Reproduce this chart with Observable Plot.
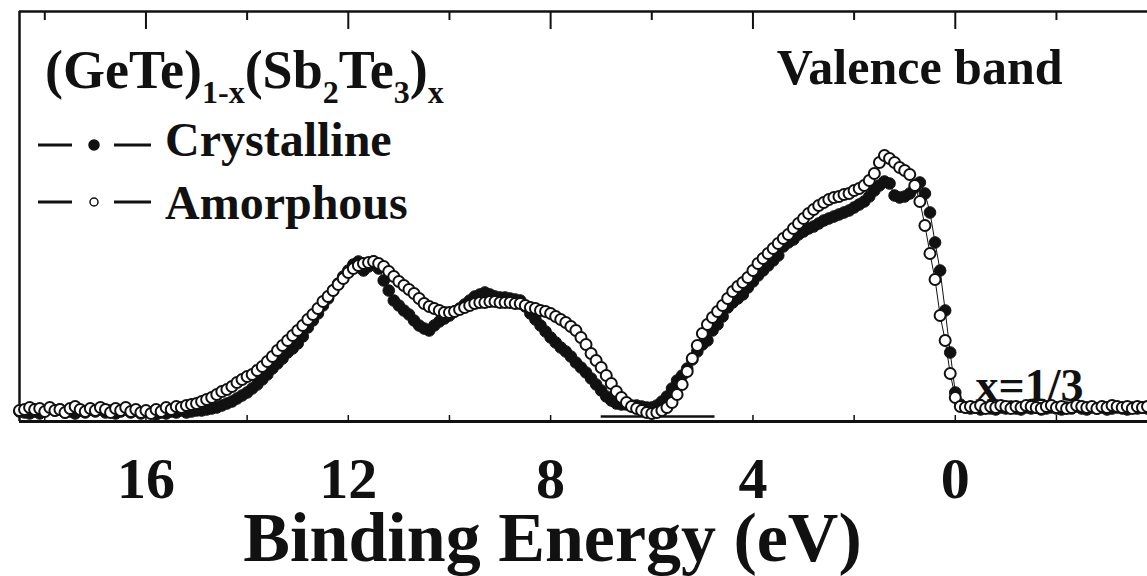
<!DOCTYPE html>
<html>
<head>
<meta charset="utf-8">
<script src="https://cdn.jsdelivr.net/npm/d3@7"></script>
<script src="https://cdn.jsdelivr.net/npm/@observablehq/plot@0.6"></script>
<style>
  html, body { margin: 0; padding: 0; background: #fff; }
  #chart svg { display: block; }
</style>
</head>
<body>
<div id="chart"></div>
<script>
// Photoemission valence-band spectra of (GeTe)1-x(Sb2Te3)x, x = 1/3.
// Intensities (arb. units) sampled on a uniform binding-energy grid.
const energyStart = 18.5;   // eV, first sample
const energyStep = 0.1;     // eV between samples (decreasing binding energy)

const crystalline = [
  10,9,8,10,8,11,13,11,12,9,
  10,8,11,9,12,10,13,9,11,8,
  10,12,9,11,8,10,9,7,9,8,
  10,9,11,9,10,11,11,12,13,14,
  16,18,20,23,26,29,33,37,42,47,
  53,58,63,69,73,78,85,94,101,108,
  116,123,131,138,145,151,157,160,151,155,
  160,153,141,131,121,116,111,107,101,96,
  93,91,96,100,103,106,110,113,117,121,
  125,127,129,127,125,124,124,123,122,121,
  115,108,102,96,90,84,79,74,70,65,
  59,54,49,43,37,31,25,21,18,17,
  17,16,16,15,14,14,16,20,25,33,
  41,46,53,62,70,77,81,91,97,105,
  114,119,123,127,134,140,146,151,156,161,
  166,175,179,182,187,190,193,195,198,201,
  203,205,207,209,211,214,217,220,225,231,
  236,240,238,226,224,225,228,234,239,228,
  209,179,151,111,69,29,17,14,
  13,14,12,14,13,12,14,13,15,13,12,14,13,14,12,13,14,13,
  12,14,13,15,13,12,14,13,14,12,13,14,13,12,14,13,14,13
];

const amorphous = [
  11,12,14,12,13,10,14,11,12,9,
  13,15,12,10,13,11,14,12,9,13,
  11,14,10,12,9,11,8,12,10,14,
  12,15,14,16,17,18,20,22,24,27,
  30,32,35,39,42,45,47,51,55,60,
  65,71,76,81,86,91,96,102,107,113,
  120,125,131,137,143,149,153,156,158,159,
  160,158,155,150,145,140,136,132,128,123,
  118,115,113,111,109,109,110,112,114,116,
  118,119,119,120,120,119,119,119,118,118,
  116,114,113,111,110,108,105,102,99,95,
  91,84,77,68,61,54,46,38,30,24,
  19,15,13,11,9,8,9,11,14,19,
  27,37,50,63,76,88,97,104,110,116,
  123,130,135,139,144,151,158,163,168,173,
  178,183,187,193,198,203,208,212,216,219,
  222,224,225,227,228,231,233,236,241,248,
  259,266,263,259,254,251,247,236,220,196,
  168,142,106,81,48,24,15,14,
  15,14,16,13,15,14,16,15,13,15,14,16,15,14,13,15,16,14,
  15,13,14,16,15,14,15,13,15,14,16,15,14,15,13,15,14,15
];

const majorTicks = [16, 12, 8, 4, 0];
const minorTicks = [18, 14, 10, 6, 2, -2];
const xDomain = [18.5, -3.8];
const yDomain = [0, 410];
// zero-intensity reference drawn under the valence-band minimum
const referenceLine = [{from: 7.0, to: 4.75, level: 5}];

const titleParts = [
  {text: "(GeTe)", sub: false}, {text: "1-x", sub: true},
  {text: "(Sb", sub: false}, {text: "2", sub: true},
  {text: "Te", sub: false}, {text: "3", sub: true},
  {text: ")", sub: false}, {text: "x", sub: true}
];
const seriesNames = ["Crystalline", "Amorphous"];

const rows = values => values.map((v, i) => ({
  energy: +(energyStart - i * energyStep).toFixed(2),
  intensity: v
}));
const crystalRows = rows(crystalline);
const amorphRows = rows(amorphous);

const serif = '"Liberation Serif", "Times New Roman", Times, serif';
const ink = "#111";
const frameH = 410;

const chart = Plot.plot({
  width: 1147,
  height: 576,
  marginLeft: 19,
  marginRight: 0,
  marginTop: 11,
  marginBottom: 155,
  style: {fontFamily: serif, fontWeight: "bold", background: "#fff", color: ink},
  x: {domain: xDomain, axis: null},
  y: {domain: yDomain, axis: null},
  marks: [
    // frame: left, top and bottom edges
    Plot.ruleX([xDomain[0]], {stroke: ink, strokeWidth: 2.5}),
    Plot.ruleY([yDomain[1]], {stroke: ink, strokeWidth: 2.5}),
    Plot.ruleY([yDomain[0]], {stroke: ink, strokeWidth: 3}),
    // inward ticks along the top edge
    Plot.ruleX(majorTicks, {x: d => d, insetBottom: frameH - 18, stroke: ink, strokeWidth: 2}),
    Plot.ruleX(minorTicks, {x: d => d, insetBottom: frameH - 9, stroke: ink, strokeWidth: 2}),
    // inward ticks along the bottom edge
    Plot.ruleX([...majorTicks, ...minorTicks], {x: d => d, insetTop: frameH - 6, stroke: ink, strokeWidth: 1.5}),
    // tick labels
    Plot.text(majorTicks, {
      x: d => d, text: d => String(d), frameAnchor: "bottom", lineAnchor: "bottom",
      dy: 76, fontSize: 58, fontWeight: "bold", fill: ink
    }),
    // axis title
    Plot.text(["Binding Energy (eV)"], {
      text: d => d, frameAnchor: "bottom", lineAnchor: "bottom",
      dx: -31, dy: 139, fontSize: 70, fontWeight: "bold", fill: ink
    }),
    Plot.ruleY(referenceLine, {x1: "from", x2: "to", y: "level", stroke: ink, strokeWidth: 2.5}),
    // spectra
    Plot.line(crystalRows, {x: "energy", y: "intensity", stroke: ink, strokeWidth: 1}),
    Plot.line(amorphRows, {x: "energy", y: "intensity", stroke: ink, strokeWidth: 1}),
    Plot.dot(crystalRows, {x: "energy", y: "intensity", r: 5.8, fill: ink, stroke: ink, strokeWidth: 1}),
    Plot.dot(amorphRows, {x: "energy", y: "intensity", r: 5.5, fill: "#fff", stroke: ink, strokeWidth: 2}),
    // annotations
    Plot.text(["Valence band"], {
      text: d => d, frameAnchor: "top-right", textAnchor: "end", lineAnchor: "bottom",
      dx: -85, dy: 72, fontSize: 50, fontWeight: "bold", fill: ink
    }),
    Plot.text(["x=1/3"], {
      text: d => d, frameAnchor: "bottom-right", textAnchor: "start", lineAnchor: "bottom",
      dx: -172, dy: -21, fontSize: 46, fontWeight: "bold", fill: ink
    })
  ]
});

document.getElementById("chart").appendChild(chart);

// Title with subscripts and the symbol legend
const svg = d3.select(chart);
const title = svg.append("text")
  .attr("x", 45).attr("y", 88)
  .attr("text-anchor", "start")
  .attr("font-family", serif).attr("font-weight", "bold")
  .attr("font-size", 54).attr("fill", ink);
let shifted = false;
for (const part of titleParts) {
  const t = title.append("tspan").text(part.text);
  if (part.sub && !shifted) { t.attr("dy", 15).attr("font-size", 32); shifted = true; }
  else if (part.sub) { t.attr("font-size", 32); }
  else if (shifted) { t.attr("dy", -15); shifted = false; }
}

const legend = svg.append("g").attr("stroke", ink).attr("fill", ink);
const legendRows = [
  {name: seriesNames[0], y: 145, filled: true},
  {name: seriesNames[1], y: 202, filled: false}
];
for (const row of legendRows) {
  legend.append("line").attr("x1", 38).attr("x2", 72).attr("y1", row.y).attr("y2", row.y).attr("stroke-width", 3);
  legend.append("line").attr("x1", 114).attr("x2", 151).attr("y1", row.y).attr("y2", row.y).attr("stroke-width", 3);
  legend.append("circle").attr("cx", 94).attr("cy", row.y).attr("r", row.filled ? 5 : 4)
    .attr("fill", row.filled ? ink : "#fff").attr("stroke-width", 1.5);
  legend.append("text").attr("x", 165).attr("y", row.y + (row.filled ? 11 : 17))
    .attr("text-anchor", "start")
    .attr("stroke", "none").attr("font-family", serif).attr("font-weight", "bold")
    .attr("font-size", 48).text(row.name);
}
</script>
</body>
</html>
